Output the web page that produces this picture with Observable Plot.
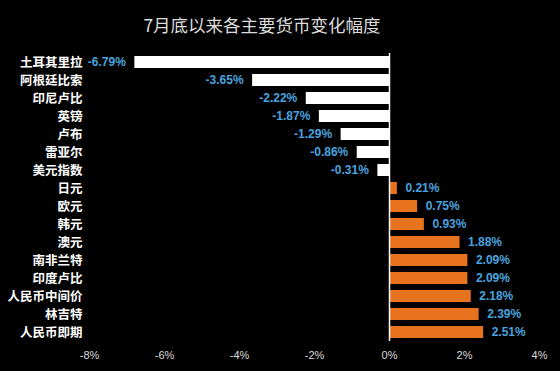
<!DOCTYPE html>
<html><head><meta charset="utf-8">
<script src="https://cdn.jsdelivr.net/npm/d3@7"></script>
<script src="https://cdn.jsdelivr.net/npm/@observablehq/plot@0.6"></script>
<style>
html,body{margin:0;padding:0;background:#000;}
#wrap{width:560px;height:371px;background:#000;overflow:hidden;}
#title{height:45px;width:560px;box-sizing:border-box;padding-right:36px;text-align:center;color:#dcdcdc;font-family:"Noto Sans CJK SC",sans-serif;font-size:17.5px;line-height:50px;}
</style></head>
<body><div id="wrap"><div id="title">7月底以来各主要货币变化幅度</div><div id="chart"></div></div>
<script>
const currencies = ["土耳其里拉","阿根廷比索","印尼卢比","英镑","卢布","雷亚尔","美元指数","日元","欧元","韩元","澳元","南非兰特","印度卢比","人民币中间价","林吉特","人民币即期"];
const changes = [-6.79,-3.65,-2.22,-1.87,-1.29,-0.86,-0.31,0.21,0.75,0.93,1.88,2.09,2.09,2.18,2.39,2.51];
const xTicks = [-8,-6,-4,-2,0,2,4];

const data = currencies.map((c,i)=>({name:c, value:changes[i]}));
const neg = data.filter(d => d.value < 0);
const pos = data.filter(d => d.value >= 0);
const pct = v => v.toFixed(2) + "%";
const labelFont = "'Liberation Sans', Arial, sans-serif";

const chart = Plot.plot({
  width: 560,
  height: 326,
  marginTop: 8,
  marginBottom: 30,
  marginLeft: 89,
  marginRight: 21,
  style: {background:"#000", color:"#fff", overflow:"visible"},
  x: {domain:[-8,4], ticks:xTicks, tickFormat: d => d + "%", label:null},
  y: {domain: currencies, paddingInner:0.33, paddingOuter:0.165, label:null},
  marks: [
    Plot.barX(neg, {x:"value", y:"name", fill:"#ffffff"}),
    Plot.barX(pos, {x:"value", y:"name", fill:"#e8731e"}),
    Plot.ruleX([0], {stroke:"#fff", strokeWidth:1.5}),
    Plot.text(neg, {x:"value", y:"name", text: d => pct(d.value), textAnchor:"end", dx:-9,
      fill:"#4aa3df", fontSize:12, fontWeight:"bold", fontFamily:labelFont}),
    Plot.text(pos, {x:"value", y:"name", text: d => pct(d.value), textAnchor:"start", dx:8,
      fill:"#4aa3df", fontSize:12, fontWeight:"bold", fontFamily:labelFont}),
    Plot.axisX({ticks:xTicks, tickFormat: d => d + "%", tickSize:0, tickPadding:10, fill:"#dcdcdc", fontSize:11, fontFamily:labelFont, label:null}),
    Plot.axisY({tickSize:0, tickPadding:7, fill:"#fff", fontSize:12.5, fontWeight:"bold", fontFamily:"'Noto Sans CJK SC', sans-serif", label:null})
  ]
});
document.getElementById("chart").appendChild(chart);
</script>
</body></html>
